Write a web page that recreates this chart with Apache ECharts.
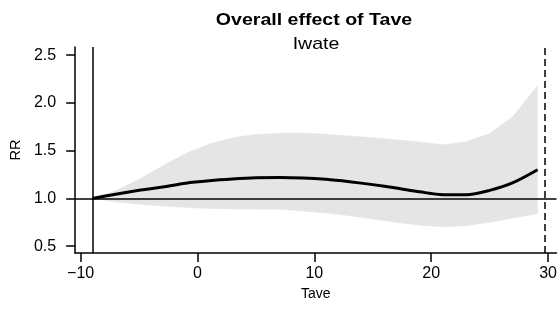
<!DOCTYPE html>
<html>
<head>
<meta charset="utf-8">
<script src="https://cdn.jsdelivr.net/npm/echarts@6/dist/echarts.min.js"></script>
<style>html,body{margin:0;padding:0;background:#fff}#c{width:560px;height:324px}</style>
</head>
<body>
<div id="c"></div>
<script>
const titleText = 'Overall effect of Tave';
const subtitleText = 'Iwate';
const xName = 'Tave';
const yName = 'RR';
const xTicks = [-10, 0, 10, 20, 30];
const yTicks = [0.5, 1.0, 1.5, 2.0, 2.5];
const tave  = [-9, -7, -5, -3, -1, 1, 3, 5, 7, 9, 11, 13, 15, 17, 19, 21, 23, 25, 27, 29.1];
const rr    = [1.00, 1.045, 1.085, 1.12, 1.16, 1.185, 1.203, 1.216, 1.22, 1.215, 1.20, 1.175, 1.145, 1.11, 1.07, 1.04, 1.04, 1.085, 1.165, 1.30];
const upper = [1.00, 1.08, 1.2, 1.34, 1.47, 1.57, 1.635, 1.67, 1.683, 1.685, 1.672, 1.655, 1.637, 1.615, 1.59, 1.563, 1.595, 1.68, 1.86, 2.18];
const lower = [1.00, 0.965, 0.94, 0.92, 0.905, 0.895, 0.89, 0.89, 0.887, 0.87, 0.848, 0.82, 0.785, 0.75, 0.72, 0.705, 0.715, 0.75, 0.795, 0.84];
const refTave = -9;
const maxTave = 29.7;
const refRR = 1;

const FONT = 'Liberation Sans, Arial, sans-serif';
const chart = echarts.init(document.getElementById('c'), null, {renderer: 'canvas'});

function bandItem(params, api) {
  const up = tave.map((x, i) => api.coord([x, upper[i]]));
  const lo = tave.map((x, i) => api.coord([x, lower[i]])).reverse();
  return {
    type: 'group', silent: true,
    children: [
      {type: 'polygon', shape: {points: up.concat(lo), smooth: 0}, style: {fill: '#e5e5e5', stroke: '#e5e5e5', lineWidth: 0.5}}
    ]
  };
}

chart.setOption({
  animation: false,
  backgroundColor: '#fff',
  grid: {left: 75, right: 1, top: 47, bottom: 71, containLabel: false},
  graphic: [
    {type: 'text', x: 314, y: 20, scaleX: 1.15, style: {text: titleText, font: 'bold 17px ' + FONT, fill: '#000', align: 'center', verticalAlign: 'middle'}},
    {type: 'text', x: 316, y: 44, scaleX: 1.15, style: {text: subtitleText, font: '17px ' + FONT, fill: '#000', align: 'center', verticalAlign: 'middle'}}
  ],
  xAxis: {
    type: 'value', min: -10.468, max: 30.72,
    name: xName, nameLocation: 'middle', nameGap: 31,
    nameTextStyle: {fontFamily: FONT, fontSize: 14, color: '#000'},
    axisLine: {onZero: false, lineStyle: {color: '#000', width: 1.5}},
    axisTick: {show: true, inside: false, length: 9, customValues: xTicks, lineStyle: {color: '#000', width: 1.5}},
    axisLabel: {customValues: xTicks, fontFamily: FONT, fontSize: 16, color: '#000', margin: 13,
      formatter: v => (v < 0 ? '\u2212' + Math.abs(v) : String(v))},
    splitLine: {show: false}
  },
  yAxis: {
    type: 'value', min: 0.429, max: 2.586,
    name: yName, nameLocation: 'middle', nameGap: 49, nameRotate: 90,
    nameTextStyle: {fontFamily: FONT, fontSize: 14.5, color: '#000'},
    axisLine: {show: true, onZero: false, lineStyle: {color: '#000', width: 1.5}},
    axisTick: {show: true, inside: false, length: 9, customValues: yTicks, lineStyle: {color: '#000', width: 1.5}},
    axisLabel: {customValues: yTicks, fontFamily: FONT, fontSize: 16, color: '#000', margin: 19,
      formatter: v => v.toFixed(1)},
    splitLine: {show: false}
  },
  series: [
    {type: 'custom', renderItem: bandItem, data: [0], silent: true, z: 1, clip: true},
    {type: 'line', symbol: 'none', silent: true, z: 3, smooth: 0.3,
      lineStyle: {color: '#000', width: 3}, data: tave.map((x, i) => [x, rr[i]]),
      markLine: {silent: true, symbol: 'none', label: {show: false}, animation: false,
        data: [
          {xAxis: refTave, lineStyle: {color: '#000', width: 1.5, type: 'solid'}},
          {yAxis: refRR, lineStyle: {color: '#000', width: 1.5, type: 'solid'}},
          {xAxis: maxTave, lineStyle: {color: '#000', width: 1.5, type: [7, 4]}}
        ]}}
  ]
});
</script>
</body>
</html>
